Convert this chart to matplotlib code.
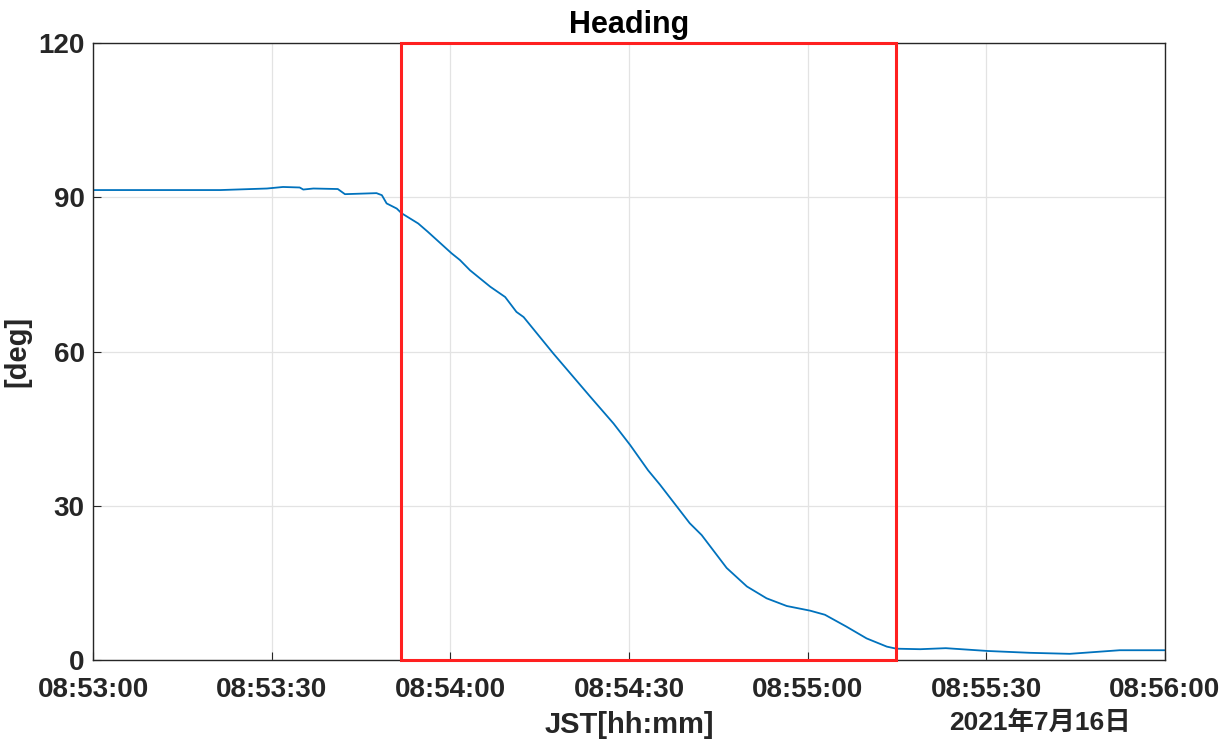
import numpy as np
import pandas as pd
import matplotlib
matplotlib.use("Agg")
import matplotlib.pyplot as plt
import matplotlib.dates as mdates
from matplotlib.patches import Rectangle

# heading log, seconds after 08:53:00
t_sec = [0, 12.6, 21.4, 29.2, 31.9, 34.7, 35.3, 37.0, 41.1, 42.3, 47.6, 48.5, 49.3,
         51.0, 51.8, 54.6, 56.2, 60.2, 61.6, 63.3, 66.7, 69.2, 71.1, 72.3,
         77.3, 83.5, 87.4, 90.2, 93.2, 95.2, 100.2, 102.2, 106.4, 109.8, 113.1,
         116.5, 120.4, 122.9, 126.5, 129.9, 133.3, 134.9, 138.9, 143.2, 150.3,
         157.3, 164.0, 172.4, 180]
heading = [91.4, 91.4, 91.4, 91.7, 92.0, 91.9, 91.5, 91.7, 91.6, 90.6, 90.8, 90.4,
           88.8, 87.8, 86.9, 84.9, 83.3, 79.1, 77.8, 75.8, 72.6, 70.6, 67.7,
           66.7, 59.6, 51.2, 46.0, 41.8, 36.9, 34.1, 26.6, 24.3, 17.9, 14.3, 12.0,
           10.5, 9.6, 8.8, 6.5, 4.2, 2.6, 2.2, 2.1, 2.3, 1.75, 1.4, 1.2, 1.9, 1.9]
box_sec = [51.7, 134.8]   # highlighted interval
start = pd.Timestamp("2021-07-16 08:53:00")

times = [start + pd.Timedelta(seconds=s) for s in t_sec]

plt.rcParams['font.family'] = ['Liberation Sans', 'Noto Sans CJK JP', 'DejaVu Sans']
plt.rcParams['font.weight'] = 'bold'
plt.rcParams["xtick.direction"] = "in"
plt.rcParams["ytick.direction"] = "in"

fig = plt.figure(figsize=(12.26, 7.44), dpi=100)
ax = fig.add_axes([0.0759, 0.1129, 0.8743, 0.8293])

ax.plot(times, heading, color='#0072BD', linewidth=1.3)

x0 = mdates.date2num(start + pd.Timedelta(seconds=box_sec[0]))
x1 = mdates.date2num(start + pd.Timedelta(seconds=box_sec[1]))
ax.add_patch(Rectangle((x0, 0), x1 - x0, 120, fill=False, edgecolor='#ff2020',
                       linewidth=2.2, zorder=5, clip_on=False))

ax.set_xlim(start, start + pd.Timedelta(seconds=180))
ax.set_ylim(0, 120)
ax.set_yticks([0, 30, 60, 90, 120])
ax.set_xticks([start + pd.Timedelta(seconds=s) for s in range(0, 181, 30)])
ax.xaxis.set_major_formatter(mdates.DateFormatter('%H:%M:%S'))
ax.grid(True, color='#e3e3e3', linewidth=0.9)
ax.set_axisbelow(True)
for sp in ax.spines.values():
    sp.set_color('#262626')
    sp.set_linewidth(1.0)
ax.tick_params(labelsize=20, colors='#262626', length=6)
ax.tick_params(axis='x', pad=12)
ax.tick_params(axis='y', pad=6)
for lab in ax.get_xticklabels() + ax.get_yticklabels():
    lab.set_fontweight('bold')

ax.set_title('Heading', fontsize=22, fontweight='bold', pad=7)
ax.set_xlabel('JST[hh:mm]', fontsize=21, fontweight='bold', color='#262626', labelpad=6)
ax.set_ylabel('[deg]', fontsize=21, fontweight='bold', color='#262626')
ax.yaxis.set_label_coords(-0.0578, 0.5)
fig.text(0.848, 0.029, '2021年7月16日', fontsize=19, fontweight='bold',
         color='#262626', ha='center', va='center')

plt.savefig('out.png', dpi=100)
